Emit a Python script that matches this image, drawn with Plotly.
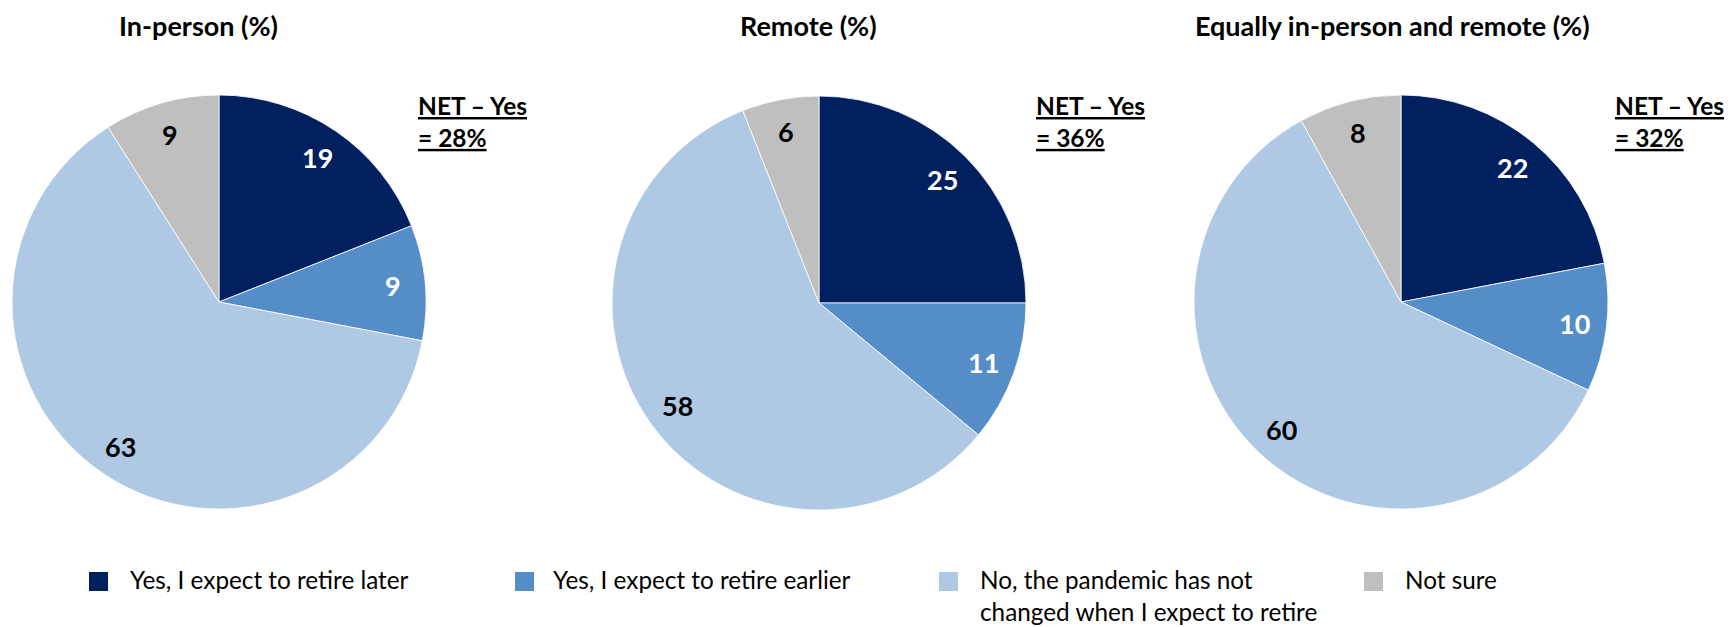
import math
import plotly.graph_objects as go

# ---------------- data ----------------
categories = [
    "Yes, I expect to retire later",
    "Yes, I expect to retire earlier",
    "No, the pandemic has not changed when I expect to retire",
    "Not sure",
]
legend_labels = [
    "Yes, I expect to retire later",
    "Yes, I expect to retire earlier",
    "No, the pandemic has not<br>changed when I expect to retire",
    "Not sure",
]
group_titles = ["In-person (%)", "Remote (%)", "Equally in-person and remote (%)"]
in_person = [19, 9, 63, 9]
remote = [25, 11, 58, 6]
equally = [22, 10, 60, 8]
series = [in_person, remote, equally]

colors = ["#002060", "#558DC8", "#AFC9E4", "#BFBFBF"]
label_colors = ["white", "white", "black", "black"]

# ---------------- layout constants (pixels) ----------------
W, H = 1736, 627
FONT = "Lato"
R = 207
centers = [(219, 302), (819, 303), (1401, 302)]
title_x = [198, 808, 1392]
title_y = 25
net_x = [416, 1034, 1613]
net_top = 89
sq_x = [89, 515, 939, 1364]
txt_x = [129, 552, 979, 1404]
sq_top, sq_size = 572, 19
legend_text_top = 564
LABEL_R = 0.845


def px(x):
    return x / W


def py(y):
    return 1 - y / H


fig = go.Figure()
annotations = []
shapes = []

for vals, (cx, cy), ttl, tx, nx in zip(series, centers, group_titles, title_x, net_x):
    fig.add_trace(go.Pie(
        labels=categories,
        values=vals,
        sort=False,
        direction="clockwise",
        rotation=0,
        marker=dict(colors=colors, line=dict(color="white", width=0.8)),
        textinfo="none",
        hoverinfo="label+value",
        showlegend=False,
        domain=dict(x=[px(cx - R), px(cx + R)], y=[py(cy + R), py(cy - R)]),
    ))
    # slice labels placed along the bisector of each slice
    total = sum(vals)
    cum = 0
    for v, lc in zip(vals, label_colors):
        mid = (cum + v / 2) / total * 2 * math.pi
        cum += v
        lx = cx + LABEL_R * R * math.sin(mid)
        ly = cy - LABEL_R * R * math.cos(mid)
        annotations.append(dict(
            x=px(lx), y=py(ly), xref="paper", yref="paper",
            text=f"<b>{v}</b>", showarrow=False,
            xanchor="center", yanchor="middle",
            font=dict(family=FONT, size=27, color=lc),
        ))
    # panel title
    annotations.append(dict(
        x=px(tx), y=py(title_y), xref="paper", yref="paper",
        text=f"<b>{ttl}</b>", showarrow=False,
        xanchor="center", yanchor="middle",
        font=dict(family=FONT, size=27, color="black"),
    ))
    # NET - Yes
    net = vals[0] + vals[1]
    annotations.append(dict(
        x=px(nx), y=py(net_top), xref="paper", yref="paper",
        text=f"<b><u>NET – Yes</u></b><br><b><u>= {net}%</u></b>",
        showarrow=False, xanchor="left", yanchor="top", align="left",
        font=dict(family=FONT, size=24.5, color="black"),
    ))

# custom legend
for lab, col, sx, tx in zip(legend_labels, colors, sq_x, txt_x):
    shapes.append(dict(
        type="rect", xref="paper", yref="paper",
        x0=px(sx), x1=px(sx + sq_size), y0=py(sq_top + sq_size), y1=py(sq_top),
        fillcolor=col, line=dict(width=0),
    ))
    annotations.append(dict(
        x=px(tx), y=py(legend_text_top), xref="paper", yref="paper",
        text=lab, showarrow=False, xanchor="left", yanchor="top", align="left",
        borderpad=0,
        font=dict(family=FONT, size=24.3, color="black"),
    ))

fig.update_layout(
    width=W, height=H,
    margin=dict(l=0, r=0, t=0, b=0),
    paper_bgcolor="white",
    plot_bgcolor="white",
    annotations=annotations,
    shapes=shapes,
    showlegend=False,
)

fig.write_html(
    "out.html",
    config={"displayModeBar": False},
    post_script="document.body.style.margin='0';document.body.style.overflow='hidden';",
)
